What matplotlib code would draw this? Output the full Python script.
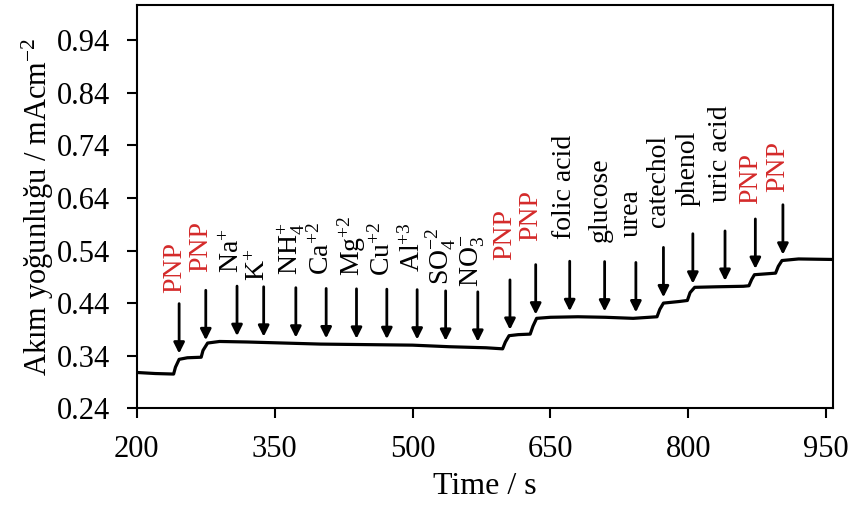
import matplotlib
matplotlib.use("Agg")
import matplotlib.pyplot as plt
import numpy as np

plt.rcParams['font.family'] = ['Liberation Serif', 'DejaVu Serif']
plt.rcParams['mathtext.fontset'] = 'custom'
plt.rcParams['mathtext.rm'] = 'Liberation Serif'
plt.rcParams['mathtext.it'] = 'Liberation Serif:italic'
plt.rcParams['mathtext.bf'] = 'Liberation Serif:bold'

# measured amperometric trace (time in s, current density in mA cm^-2)
time_s = [200, 220, 240, 242, 246, 255, 270, 272, 277, 290, 320, 360, 400, 450,
          500, 540, 580, 598, 601, 605, 615, 628, 631, 635, 650, 680, 710, 740,
          766, 769, 773, 790, 799, 802, 807, 830, 860, 866, 869, 872, 895, 898,
          902, 920, 958]
current = [0.308, 0.306, 0.305, 0.318, 0.333, 0.336, 0.337, 0.350, 0.364, 0.367,
           0.366, 0.364, 0.362, 0.361, 0.360, 0.357, 0.355, 0.353, 0.366, 0.378,
           0.380, 0.381, 0.396, 0.411, 0.413, 0.414, 0.413, 0.411, 0.414, 0.428,
           0.440, 0.443, 0.445, 0.460, 0.470, 0.471, 0.472, 0.473, 0.485, 0.494,
           0.497, 0.510, 0.521, 0.524, 0.523]

# additions
add_times = [246, 275, 309, 338, 373, 406, 439, 472, 505, 536, 571, 606, 634,
             671, 709, 743, 773, 805, 840, 873, 903]
add_labels = ['PNP', 'PNP', 'Na$^{+}$', 'K$^{+}$', 'NH$_{4}^{+}$', 'Ca$^{+2}$',
              'Mg$^{+2}$', 'Cu$^{+2}$', 'Al$^{+3}$', 'SO$_{4}^{-2}$', 'NO$_{3}^{-}$',
              'PNP', 'PNP', 'folic acid', 'glucose', 'urea', 'catechol', 'phenol',
              'uric acid', 'PNP', 'PNP']

x_ticks = [200, 350, 500, 650, 800, 950]
y_ticks = [0.24, 0.34, 0.44, 0.54, 0.64, 0.74, 0.84, 0.94]

# layout: space (points) between arrow tail and its label
label_gap_pt = [8, 13, 9.4, 4.3, 9.4, 10, 9.4, 9.4, 13, 4.3, 3.6, 14.4, 17.3,
                15.8, 14.4, 18, 14.4, 20, 21, 10.8, 9.4]

RED = '#D42A2A'
FS = 22

fig = plt.figure(figsize=(8.5, 5.09), dpi=100)
ax = fig.add_axes([0.161, 0.198, 0.819, 0.792])

ax.plot(time_s, current, color='black', lw=2.3, solid_joinstyle='round')

ax.set_xlim(200, 957.5)
ax.set_ylim(0.24, 1.007)
ax.set_xticks(x_ticks)
ax.set_yticks(y_ticks)
ax.set_xticklabels([str(v) for v in x_ticks])
ax.set_yticklabels([f"{v:.2f}" for v in y_ticks])
ax.tick_params(axis='both', direction='out', length=7, width=1.5, labelsize=FS, pad=12)
for s in ax.spines.values():
    s.set_linewidth(1.5)

ax.set_xlabel('Time / s', fontsize=23, labelpad=6)
ax.set_ylabel('Akım yoğunluğu / mAcm$^{\\mathregular{-2}}$', fontsize=FS, labelpad=1)

gap = 0.011
alen = 0.095
for t, lab, g in zip(add_times, add_labels, label_gap_pt):
    y0 = float(np.interp(t, time_s, current)) + gap
    col = RED if lab == 'PNP' else 'black'
    ax.annotate('', xy=(t, y0), xytext=(t, y0 + alen),
                arrowprops=dict(arrowstyle='-|>', lw=2.0, color='black',
                                mutation_scale=16, shrinkA=0, shrinkB=0))
    ax.annotate(lab, xy=(t, y0 + alen), xytext=(-3.5, g), textcoords='offset points',
                rotation=90, ha='center', va='bottom', fontsize=20, color=col)

fig.savefig('out.png', dpi=100)
